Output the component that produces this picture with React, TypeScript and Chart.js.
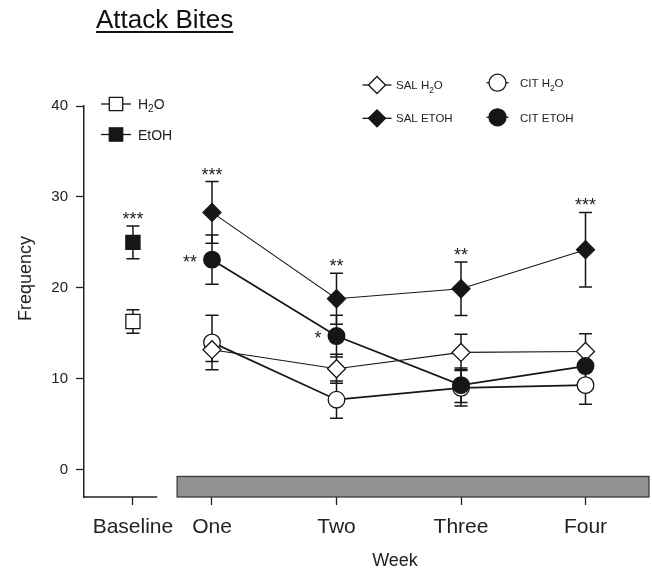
import React, { useEffect, useRef } from 'react';
import { Chart, registerables } from 'chart.js';

Chart.register(...registerables);

// ---- data ----
const categories = ['Baseline', 'One', 'Two', 'Three', 'Four'];
const categoryPos = [0.365, 1, 2, 3, 4];
const weeks = [1, 2, 3, 4];
const yTicks = [0, 10, 20, 30, 40];

const baselineH2O = [16.3];
const baselineH2OErr = [1.3];
const baselineEtOH = [25.0];
const baselineEtOHErr = [1.8];

const salH2O = [13.2, 11.1, 12.9, 13.0];
const salH2OErr = [1.3, 1.6, 2.0, 1.95];
const salEtOH = [28.3, 18.8, 19.9, 24.2];
const salEtOHErr = [3.4, 2.8, 2.95, 4.1];
const citH2O = [14.0, 7.7, 9.0, 9.3];
const citH2OErr = [3.0, 2.05, 2.0, 2.1];
const citEtOH = [23.1, 14.7, 9.3, 11.4];
const citEtOHErr = [2.7, 2.3, 1.9, 1.9];

const sigBaselineEtOH = ['***'];
const sigSalEtOH = ['***', '**', '**', '***'];
const sigCitEtOH = ['**', '*', '', ''];

// ---- layout constants ----
const X_BREAK = 0.56;
const BAR_X0 = 0.72;
const BAR_X1 = 4.51;
const BAR_TOP = -0.74;
const FONT = "'Liberation Sans', Arial, Helvetica, sans-serif";
const INK = '#161616';

type Shape = 'rect' | 'diamond' | 'circle';

function drawMarker(ctx: CanvasRenderingContext2D, shape: Shape, x: number, y: number, r: number, filled: boolean) {
  ctx.beginPath();
  if (shape === 'rect') {
    const s = r * Math.SQRT1_2;
    ctx.rect(x - s, y - s, 2 * s, 2 * s);
  } else if (shape === 'diamond') {
    ctx.moveTo(x - r, y);
    ctx.lineTo(x, y - r);
    ctx.lineTo(x + r, y);
    ctx.lineTo(x, y + r);
    ctx.closePath();
  } else {
    ctx.arc(x, y, r, 0, Math.PI * 2);
  }
  ctx.fillStyle = filled ? INK : '#ffffff';
  ctx.fill();
  ctx.strokeStyle = INK;
  ctx.lineWidth = 1.3;
  ctx.stroke();
}

function drawRich(ctx: CanvasRenderingContext2D, parts: { t: string; sub?: boolean }[], x: number, y: number, size: number) {
  let cx = x;
  ctx.textAlign = 'left';
  ctx.textBaseline = 'alphabetic';
  ctx.fillStyle = '#222';
  for (const p of parts) {
    const s = p.sub ? size * 0.72 : size;
    ctx.font = `${s}px ${FONT}`;
    ctx.fillText(p.t, cx, p.sub ? y + size * 0.28 : y);
    cx += ctx.measureText(p.t).width;
  }
}

function legendItem(ctx: CanvasRenderingContext2D, shape: Shape, filled: boolean, cx: number, cy: number, half: number, r: number) {
  ctx.strokeStyle = INK;
  ctx.lineWidth = 1.3;
  ctx.beginPath();
  ctx.moveTo(cx - half, cy);
  ctx.lineTo(cx + half, cy);
  ctx.stroke();
  drawMarker(ctx, shape, cx, cy, r, filled);
}

const errorSeries = [
  { xs: weeks, vals: citH2O, errs: citH2OErr },
  { xs: weeks, vals: salEtOH, errs: salEtOHErr },
  { xs: weeks, vals: salH2O, errs: salH2OErr },
  { xs: weeks, vals: citEtOH, errs: citEtOHErr },
  { xs: [categoryPos[0]], vals: baselineH2O, errs: baselineH2OErr },
  { xs: [categoryPos[0]], vals: baselineEtOH, errs: baselineEtOHErr },
];

const decor = {
  id: 'decor',
  beforeDatasetsDraw(chart: any) {
    const { ctx, chartArea } = chart;
    const x = chart.scales.x;
    const y = chart.scales.y;
    ctx.save();
    // baseline axis segment
    ctx.strokeStyle = '#222';
    ctx.lineWidth = 1.5;
    ctx.beginPath();
    ctx.moveTo(chartArea.left, chartArea.bottom);
    ctx.lineTo(x.getPixelForValue(X_BREAK), chartArea.bottom);
    ctx.stroke();
    // gray treatment bar
    const bx0 = x.getPixelForValue(BAR_X0);
    const bx1 = x.getPixelForValue(BAR_X1);
    const by0 = y.getPixelForValue(BAR_TOP);
    const by1 = y.getPixelForValue(-3);
    ctx.fillStyle = '#919191';
    ctx.fillRect(bx0, by0, bx1 - bx0, by1 - by0);
    ctx.strokeStyle = '#3a3a3a';
    ctx.lineWidth = 1.3;
    ctx.strokeRect(bx0, by0, bx1 - bx0, by1 - by0);
    // error bars
    ctx.strokeStyle = INK;
    ctx.lineWidth = 1.5;
    for (const s of errorSeries) {
      s.vals.forEach((v, i) => {
        const px = x.getPixelForValue(s.xs[i]);
        const top = y.getPixelForValue(v + s.errs[i]);
        const bot = y.getPixelForValue(v - s.errs[i]);
        ctx.beginPath();
        ctx.moveTo(px, top);
        ctx.lineTo(px, bot);
        ctx.moveTo(px - 6.5, top);
        ctx.lineTo(px + 6.5, top);
        ctx.moveTo(px - 6.5, bot);
        ctx.lineTo(px + 6.5, bot);
        ctx.stroke();
      });
    }
    ctx.restore();
  },
  afterDatasetsDraw(chart: any) {
    const { ctx } = chart;
    const x = chart.scales.x;
    const y = chart.scales.y;
    ctx.save();
    const size = 18;
    ctx.font = `${size}px ${FONT}`;
    ctx.fillStyle = '#222';
    ctx.textBaseline = 'alphabetic';
    const above = (xv: number, v: number, e: number, t: string) => {
      if (!t) return;
      ctx.textAlign = 'center';
      const cy = y.getPixelForValue(v + e) - 9;
      ctx.fillText(t, x.getPixelForValue(xv), cy + size * 0.45);
    };
    const left = (xv: number, v: number, t: string) => {
      if (!t) return;
      ctx.textAlign = 'right';
      const cy = y.getPixelForValue(v);
      ctx.fillText(t, x.getPixelForValue(xv) - 15, cy + size * 0.45);
    };
    above(categoryPos[0], baselineEtOH[0], baselineEtOHErr[0], sigBaselineEtOH[0]);
    weeks.forEach((w, i) => {
      above(w, salEtOH[i], salEtOHErr[i], sigSalEtOH[i]);
      left(w, citEtOH[i], sigCitEtOH[i]);
    });
    ctx.restore();
  },
  afterDraw(chart: any) {
    const { ctx } = chart;
    ctx.save();
    // title
    ctx.font = `26px ${FONT}`;
    ctx.fillStyle = '#111';
    ctx.textAlign = 'left';
    ctx.textBaseline = 'alphabetic';
    const title = 'Attack Bites';
    ctx.fillText(title, 96, 27.5);
    const tw = ctx.measureText(title).width;
    ctx.fillRect(96, 31, tw, 2);
    // axis titles
    ctx.font = `18px ${FONT}`;
    ctx.fillStyle = '#222';
    ctx.textAlign = 'center';
    ctx.fillText('Week', 395, 566);
    ctx.save();
    ctx.translate(31, 278.5);
    ctx.rotate(-Math.PI / 2);
    ctx.fillText('Frequency', 0, 0);
    ctx.restore();
    // legend: baseline
    legendItem(ctx, 'rect', false, 116, 104, 15, 9.5);
    drawRich(ctx, [{ t: 'H' }, { t: '2', sub: true }, { t: 'O' }], 138, 108.5, 14);
    legendItem(ctx, 'rect', true, 116, 134.5, 15, 9.5);
    drawRich(ctx, [{ t: 'EtOH' }], 138, 139.5, 14);
    // legend: weekly groups
    legendItem(ctx, 'diamond', false, 377, 85, 14.5, 8.5);
    drawRich(ctx, [{ t: 'SAL H' }, { t: '2', sub: true }, { t: 'O' }], 396, 89.3, 11.5);
    legendItem(ctx, 'diamond', true, 377, 118.3, 14.5, 8.5);
    drawRich(ctx, [{ t: 'SAL ETOH' }], 396, 122.3, 11.5);
    legendItem(ctx, 'circle', false, 497.5, 82.7, 11, 8.5);
    drawRich(ctx, [{ t: 'CIT H' }, { t: '2', sub: true }, { t: 'O' }], 520, 87.3, 11.5);
    legendItem(ctx, 'circle', true, 497.5, 117.3, 11, 8.5);
    drawRich(ctx, [{ t: 'CIT ETOH' }], 520, 121.5, 11.5);
    ctx.restore();
  },
};

function series(label: string, xs: number[], vals: number[], shape: string, radius: number, filled: boolean, lineW: number, showLine: boolean) {
  return {
    label,
    data: xs.map((xv, i) => ({ x: xv, y: vals[i] })),
    showLine,
    fill: false,
    borderColor: INK,
    borderWidth: lineW,
    pointStyle: shape,
    pointRadius: radius,
    pointBackgroundColor: filled ? INK : '#ffffff',
    pointBorderColor: INK,
    pointBorderWidth: 1.3,
    tension: 0,
  };
}

export default function App() {
  const ref = useRef<HTMLCanvasElement>(null);
  useEffect(() => {
    if (!ref.current) return;
    Chart.defaults.font.family = FONT;
    const chart = new Chart(ref.current, {
      type: 'line',
      data: {
        datasets: [
          series('CIT ETOH', weeks, citEtOH, 'circle', 8.3, true, 1.8, true),
          series('SAL H2O', weeks, salH2O, 'rectRot', 9, false, 1.1, true),
          series('SAL ETOH', weeks, salEtOH, 'rectRot', 9, true, 1.1, true),
          series('CIT H2O', weeks, citH2O, 'circle', 8.3, false, 1.8, true),
          series('H2O', [categoryPos[0]], baselineH2O, 'rect', 10, false, 1.2, false),
          series('EtOH', [categoryPos[0]], baselineEtOH, 'rect', 10, true, 1.2, false),
        ] as any,
      },
      options: {
        responsive: false,
        animation: false,
        devicePixelRatio: 1,
        layout: { autoPadding: false, padding: { left: 0, right: 2, top: 106, bottom: 0 } },
        plugins: { legend: { display: false }, tooltip: { enabled: false }, title: { display: false } },
        scales: {
          x: {
            type: 'linear',
            min: -0.028,
            max: 4.518,
            afterBuildTicks: (s: any) => {
              s.ticks = categoryPos.map((v) => ({ value: v }));
            },
            afterFit: (s: any) => {
              s.height = 72;
              s.paddingLeft = 0;
              s.paddingRight = 0;
            },
            ticks: {
              callback: (_v: any, i: number) => categories[i],
              font: { size: 21, family: FONT },
              color: '#222',
              padding: 10,
              maxRotation: 0,
              autoSkip: false,
            },
            grid: { drawOnChartArea: false, drawTicks: true, tickLength: 8, tickColor: '#222', tickWidth: 1.3 },
            border: { display: false },
          },
          y: {
            type: 'linear',
            min: -3,
            max: 40,
            afterBuildTicks: (s: any) => {
              s.ticks = yTicks.map((v) => ({ value: v }));
            },
            afterFit: (s: any) => {
              s.width = 84;
              s.paddingTop = 0;
              s.paddingBottom = 0;
            },
            ticks: { font: { size: 15, family: FONT }, color: '#222', padding: 8 },
            grid: { drawOnChartArea: false, drawTicks: true, tickLength: 8, tickColor: '#222', tickWidth: 1.3 },
            border: { display: true, color: '#222', width: 1.5 },
          },
        },
      } as any,
      plugins: [decor],
    });
    return () => chart.destroy();
  }, []);
  return (
    <div style={{ position: 'absolute', left: 0, top: 0, width: 652, height: 569, background: '#fff' }}>
      <canvas ref={ref} width={652} height={569} style={{ display: 'block', width: 652, height: 569 }} />
    </div>
  );
}
